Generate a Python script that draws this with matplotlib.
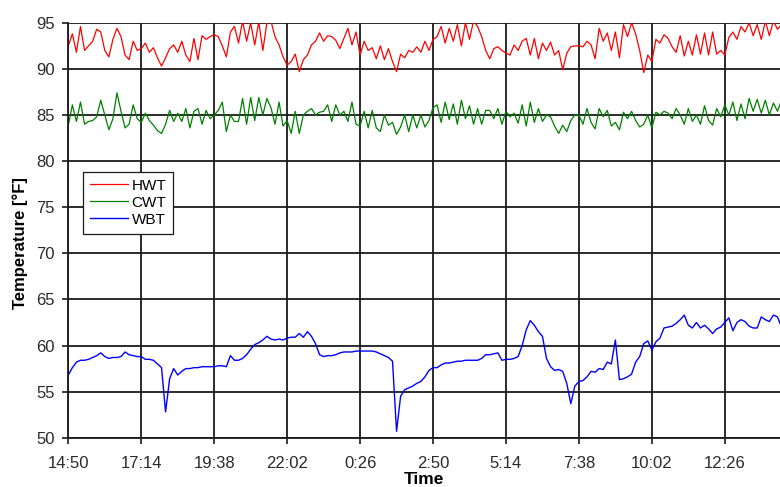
import matplotlib
matplotlib.use("Agg")
import matplotlib.pyplot as plt
import numpy as np

plt.rcParams['font.family'] = ['Liberation Sans', 'DejaVu Sans']

# logger samples, one every 8 minutes starting 14:50
sample_minutes = 8

# hot water temperature [F]
hwt = [92.5, 93.8, 91.8, 94.6, 92.0, 92.5, 93.0, 94.3, 94.0, 92.0, 91.3, 93.2, 94.4, 93.5, 91.5, 91.0, 93.0, 92.0,
       92.2, 92.8, 91.8, 92.3, 91.2, 90.3, 91.2, 92.2, 92.6, 91.8, 93.0, 91.5, 90.8, 93.3, 91.0, 93.6, 93.2, 93.5,
       93.7, 93.5, 92.5, 91.3, 94.0, 94.6, 92.8, 95.2, 93.0, 95.0, 92.6, 95.1, 92.0, 95.0, 95.2, 93.5, 92.6, 91.3,
       90.4, 90.8, 91.6, 89.7, 91.0, 91.5, 92.6, 93.0, 93.9, 93.0, 93.6, 93.5, 93.1, 92.2, 93.3, 94.4, 92.6, 94.0,
       91.5, 93.0, 92.0, 92.3, 91.1, 92.5, 91.0, 92.2, 90.8, 89.7, 91.6, 91.2, 92.0, 91.8, 92.4, 91.8, 93.0, 92.0,
       93.2, 93.5, 94.6, 92.8, 94.4, 93.0, 94.8, 92.5, 95.0, 93.2, 95.2, 94.6, 93.5, 92.0, 91.1, 92.2, 92.4, 92.0,
       91.7, 91.5, 92.6, 92.0, 93.0, 93.3, 91.5, 93.3, 91.1, 92.8, 92.0, 92.9, 91.5, 92.0, 89.9, 91.7, 92.4, 92.5,
       92.5, 92.4, 93.0, 92.6, 91.1, 94.4, 93.0, 93.9, 92.0, 94.0, 91.2, 94.8, 93.5, 95.0, 93.8, 92.0, 89.6, 91.5,
       90.8, 93.2, 92.8, 93.7, 93.3, 92.4, 91.8, 93.6, 91.4, 93.0, 91.5, 93.7, 91.6, 93.9, 91.5, 94.0, 91.6, 92.0,
       91.5, 93.4, 94.0, 93.2, 94.6, 94.0, 95.0, 93.6, 94.8, 93.2, 95.2, 93.6, 95.2, 94.3, 94.8]

# cold water temperature [F]
cwt = [83.9, 86.1, 84.3, 86.4, 84.0, 84.3, 84.4, 84.8, 86.6, 85.0, 83.4, 84.6, 87.4, 85.4, 83.6, 84.0, 86.1, 84.6,
       84.2, 85.2, 84.4, 83.9, 83.3, 83.0, 84.0, 85.5, 84.3, 85.2, 84.3, 85.7, 83.6, 85.4, 85.7, 84.0, 85.5, 84.6,
       85.0, 85.5, 86.4, 83.2, 85.0, 84.3, 84.3, 86.8, 84.0, 86.9, 84.4, 86.9, 85.0, 86.8, 85.8, 84.0, 86.4, 83.8,
       84.4, 83.0, 85.4, 83.0, 85.0, 85.4, 85.7, 85.0, 85.3, 85.4, 86.1, 84.3, 86.1, 85.0, 85.4, 84.3, 86.4, 84.0,
       83.8, 85.4, 83.6, 85.5, 83.6, 83.2, 85.0, 83.9, 84.2, 82.9, 83.7, 85.0, 83.2, 85.0, 83.6, 85.0, 83.7, 84.4,
       85.8, 86.1, 84.2, 86.4, 84.5, 86.2, 84.0, 86.6, 84.6, 86.0, 84.0, 85.7, 84.0, 85.5, 85.5, 84.6, 85.7, 84.0,
       85.4, 84.8, 85.2, 84.1, 86.1, 83.8, 86.4, 84.2, 85.7, 84.3, 85.0, 84.8, 83.8, 83.0, 83.9, 83.2, 84.4, 85.0,
       85.0, 84.0, 85.7, 84.2, 83.5, 85.7, 84.8, 85.5, 83.8, 84.2, 83.4, 85.3, 84.6, 85.4, 84.4, 83.7, 84.0, 85.0,
       83.6, 85.3, 85.0, 85.4, 85.2, 84.6, 85.7, 85.0, 84.0, 85.7, 84.3, 85.0, 84.0, 86.0, 84.4, 83.9, 85.7, 84.8,
       86.1, 85.0, 86.4, 84.4, 86.2, 84.6, 86.8, 85.4, 86.7, 85.2, 86.6, 85.0, 86.3, 85.4, 86.6]

# wet bulb temperature [F]
wbt = [56.8, 57.6, 58.2, 58.4, 58.4, 58.5, 58.7, 58.9, 59.2, 58.8, 58.6, 58.7, 58.7, 58.8, 59.3, 59.0, 58.9, 58.8,
       58.8, 58.5, 58.5, 58.4, 58.0, 57.6, 52.8, 56.4, 57.5, 56.8, 57.2, 57.5, 57.5, 57.6, 57.6, 57.7, 57.7, 57.7,
       57.7, 57.8, 57.8, 57.7, 58.9, 58.4, 58.4, 58.6, 59.0, 59.6, 60.1, 60.3, 60.6, 61.0, 60.7, 60.6, 60.7, 60.6,
       60.8, 60.9, 60.9, 61.3, 60.9, 61.5, 61.0, 60.2, 59.0, 58.8, 58.9, 58.9, 59.0, 59.2, 59.3, 59.3, 59.3, 59.4,
       59.4, 59.4, 59.4, 59.4, 59.3, 59.1, 58.9, 58.7, 58.3, 50.7, 54.5, 55.2, 55.4, 55.6, 55.9, 56.1, 56.6, 57.3,
       57.6, 57.6, 57.9, 58.1, 58.1, 58.2, 58.3, 58.3, 58.4, 58.4, 58.4, 58.4, 58.6, 59.0, 59.0, 59.1, 59.2, 58.4,
       58.5, 58.5, 58.6, 58.8, 60.0, 61.7, 62.7, 62.2, 61.5, 61.0, 58.6, 57.7, 57.3, 57.4, 57.2, 55.9, 53.7, 55.6,
       56.1, 56.2, 56.6, 57.2, 57.1, 57.5, 57.4, 58.2, 58.0, 60.6, 56.3, 56.4, 56.6, 56.9, 58.2, 58.8, 60.2, 60.5,
       59.5, 60.4, 60.8, 61.9, 62.0, 62.1, 62.4, 62.8, 63.3, 62.2, 61.9, 62.5, 61.9, 62.2, 61.8, 61.3, 61.8, 62.0,
       62.5, 63.0, 61.6, 62.5, 62.8, 62.6, 62.1, 61.9, 61.9, 63.1, 62.8, 62.6, 63.3, 63.1, 62.0]

time_labels = ['14:50', '17:14', '19:38', '22:02', '0:26', '2:50', '5:14', '7:38', '10:02', '12:26']
tick_step = 144  # minutes between labelled ticks

minutes = np.arange(len(hwt)) * sample_minutes

fig = plt.figure(figsize=(7.8, 4.87), dpi=100)
ax = fig.add_axes([0.0876, 0.1012, 0.9124, 0.852])

ax.plot(minutes, hwt, color='#ff0000', lw=0.9, label='HWT')
ax.plot(minutes, cwt, color='#008000', lw=0.9, label='CWT')
ax.plot(minutes, wbt, color='#0000ff', lw=1.0, label='WBT')

ax.set_xlim(0, 1405)
ax.set_ylim(50, 95)
ax.set_xticks(np.arange(len(time_labels)) * tick_step)
ax.set_xticklabels(time_labels)
ax.set_yticks(np.arange(50, 96, 5))

ax.grid(True, color='#1a1a1a', lw=1.3)
ax.set_axisbelow(True)
for side in ['top', 'right']:
    ax.spines[side].set_visible(False)
for side in ['left', 'bottom']:
    ax.spines[side].set_color('#1a1a1a')
    ax.spines[side].set_linewidth(1.3)

ax.tick_params(axis='both', direction='out', length=4, width=1.2, color='#1a1a1a',
               labelsize=12, labelcolor='#2a2a2a')
ax.tick_params(axis='x', pad=9)
ax.tick_params(axis='y', pad=6)

ax.set_xlabel('Time', fontsize=12.5, weight='bold')
ax.set_ylabel('Temperature [°F]', fontsize=12, weight='bold')
ax.xaxis.set_label_coords(0.5, -0.083)
ax.yaxis.set_label_coords(-0.056, 0.47)

leg = ax.legend(loc='upper left', bbox_to_anchor=(0.0202, 0.641), borderaxespad=0,
                fontsize=11, handlelength=2.5, handletextpad=0.25, labelspacing=0.2,
                borderpad=0.45, fancybox=False, framealpha=1, edgecolor='#1a1a1a')
leg.get_frame().set_linewidth(0.9)

fig.savefig('out.png', dpi=100)
